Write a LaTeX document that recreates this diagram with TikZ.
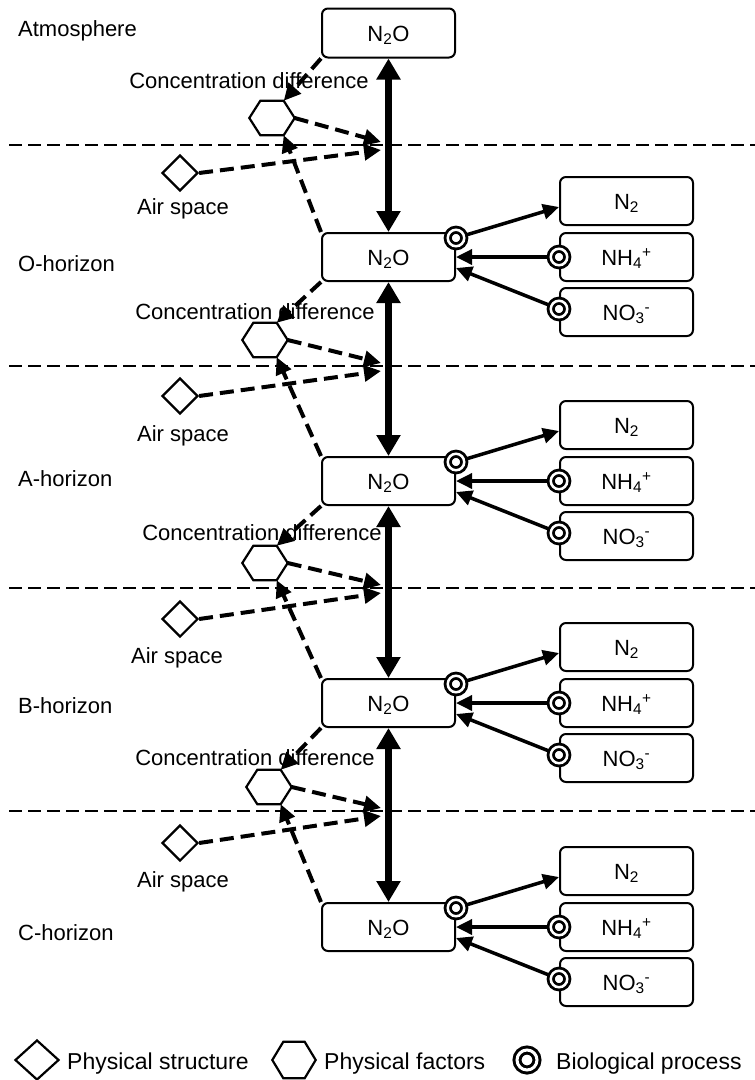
\documentclass[tikz,border=0pt]{standalone}
\usepackage{fontspec}
\setmainfont{Liberation Sans}
\usetikzlibrary{arrows.meta,shapes.geometric,calc}
\begin{document}
\begin{tikzpicture}[x=1pt,y=-1pt,
  every node/.style={font=\fontsize{22}{26}\selectfont, text height=16pt, text depth=0pt},
  box/.style={draw, line width=2pt, rounded corners=6pt, minimum width=133pt, minimum height=48pt, inner sep=0pt},
  hexbox/.style={minimum width=45pt, minimum height=34pt, inner sep=0pt},
  hexline/.style={line width=2.2pt, line join=miter},
  dia/.style={draw, diamond, line width=2.2pt, minimum width=36pt, minimum height=36pt, inner sep=0pt},
  bio/.style={circle, draw, double, fill=white, line width=2.8pt, double distance=2.5pt, minimum size=16.5pt, inner sep=0pt},
  flux/.style={line width=7.5pt, {Triangle[length=21pt,width=23pt]}-{Triangle[length=21pt,width=23pt]}},
  dasharrow/.style={line width=4pt, dash pattern=on 14pt off 7pt, -{Triangle[length=17pt,width=16pt]}},
  solidarrow/.style={line width=3.5pt, -{Triangle[length=16pt,width=15pt]}},
  layer/.style={line width=2pt, dash pattern=on 13pt off 6pt},
  lbl/.style={anchor=west, inner sep=0pt}
]
\useasboundingbox (0,0) rectangle (755,1080);

% layer boundaries
\foreach \yb in {145,366,588,811} {
  \draw[layer] (9,\yb) -- (755,\yb);
}

% horizon labels
\node[lbl] (atm) at (18,28) {Atmosphere};
\node[lbl] (lo) at (18,263) {O-horizon};
\node[lbl] (la) at (18,478) {A-horizon};
\node[lbl] (lb) at (18,705) {B-horizon};
\node[lbl] (lc) at (18,932) {C-horizon};

% N2O boxes
\node[box, minimum height=49pt] (n0) at (388.5,33) {N\textsubscript{2}O};
\foreach \i/\yc in {1/257,2/481,3/703,4/927} {
  \node[box] (n\i) at (388.5,\yc) {N\textsubscript{2}O};
}

% flux arrows
\draw[flux] (n0.south) -- (n1.north);
\draw[flux] (n1.south) -- (n2.north);
\draw[flux] (n2.south) -- (n3.north);
\draw[flux] (n3.south) -- (n4.north);

% right side
\foreach \i/\yc in {1/257,2/481,3/703,4/927} {
  \node[box] (ntwo\i) at (626.5,\yc-56) {N\textsubscript{2}};
  \node[box] (nh\i) at (626.5,\yc) {NH\textsubscript{4}\textsuperscript{+}};
  \node[box] (no\i) at (626.5,\yc+55) {NO\textsubscript{3}\textsuperscript{-}};
  \node[bio] (bz\i) at ([yshift=-6pt]n\i.north east) {};
  \node[bio] (bh\i) at (nh\i.west) {};
  \node[bio] (bo\i) at ([yshift=3pt]no\i.west) {};
  \draw[solidarrow] (bz\i) -- ([yshift=-6pt]ntwo\i.west);
  \draw[solidarrow] (bh\i) -- (n\i.east);
  \draw[solidarrow] (bo\i) -- ([yshift=-11pt]n\i.east);
}

% left side: concentration difference and air space
\foreach \k/\up/\lo/\yb/\hx/\hy/\dy/\cx/\cy/\ax/\ay in
  {1/0/1/145/272/118/173/249/80/183/206,
   2/1/2/366/265/340/396/255/311/183/433,
   3/2/3/588/265/563/619/262/532/177/655,
   4/3/4/811/269/787/843/255/757/183/879} {
  \node (conc\k) at (\cx,\cy) {Concentration difference};
  \node[hexbox] (hex\k) at (\hx,\hy) {};
  \draw[hexline] (hex\k.west) -- ($(hex\k.north west)+(11,0)$) -- ($(hex\k.north east)+(-11,0)$)
     -- (hex\k.east) -- ($(hex\k.south east)+(-11,0)$) -- ($(hex\k.south west)+(11,0)$) -- cycle;
  \node[dia] (dia\k) at (180,\dy) {};
  \node (air\k) at (\ax,\ay) {Air space};
  \coordinate (fa\k) at (381,\yb-3);
  \coordinate (fb\k) at (381,\yb+5);
  \draw[dasharrow] (n\up.south west) -- ($(hex\k.north east)+(-11,0)$);
  \draw[dasharrow] (n\lo.north west) -- ($(hex\k.south east)+(-11,0)$);
  \draw[dasharrow] (hex\k.east) -- (fa\k);
  \draw[dasharrow] (dia\k.east) -- (fb\k);
}

% legend
\begin{scope}[every node/.style={font=\fontsize{23}{27}\selectfont, text height=16.5pt, text depth=0pt}]
\node[dia, minimum width=44pt, minimum height=40pt] (ldia) at (37,1060) {};
\node[lbl] (ltxt1) at (67,1061) {Physical structure};
\node[hexbox, minimum width=43pt, minimum height=36pt] (lhex) at (294,1060) {};
\draw[hexline] (lhex.west) -- ($(lhex.north west)+(11,0)$) -- ($(lhex.north east)+(-11,0)$)
   -- (lhex.east) -- ($(lhex.south east)+(-11,0)$) -- ($(lhex.south west)+(11,0)$) -- cycle;
\node[lbl] (ltxt2) at (324,1061) {Physical factors};
\node[bio, minimum size=20pt, line width=3pt, double distance=3pt] (lbio) at (527,1060) {};
\node[lbl] (ltxt3) at (556,1061) {Biological process};
\end{scope}
\end{tikzpicture}
\end{document}
